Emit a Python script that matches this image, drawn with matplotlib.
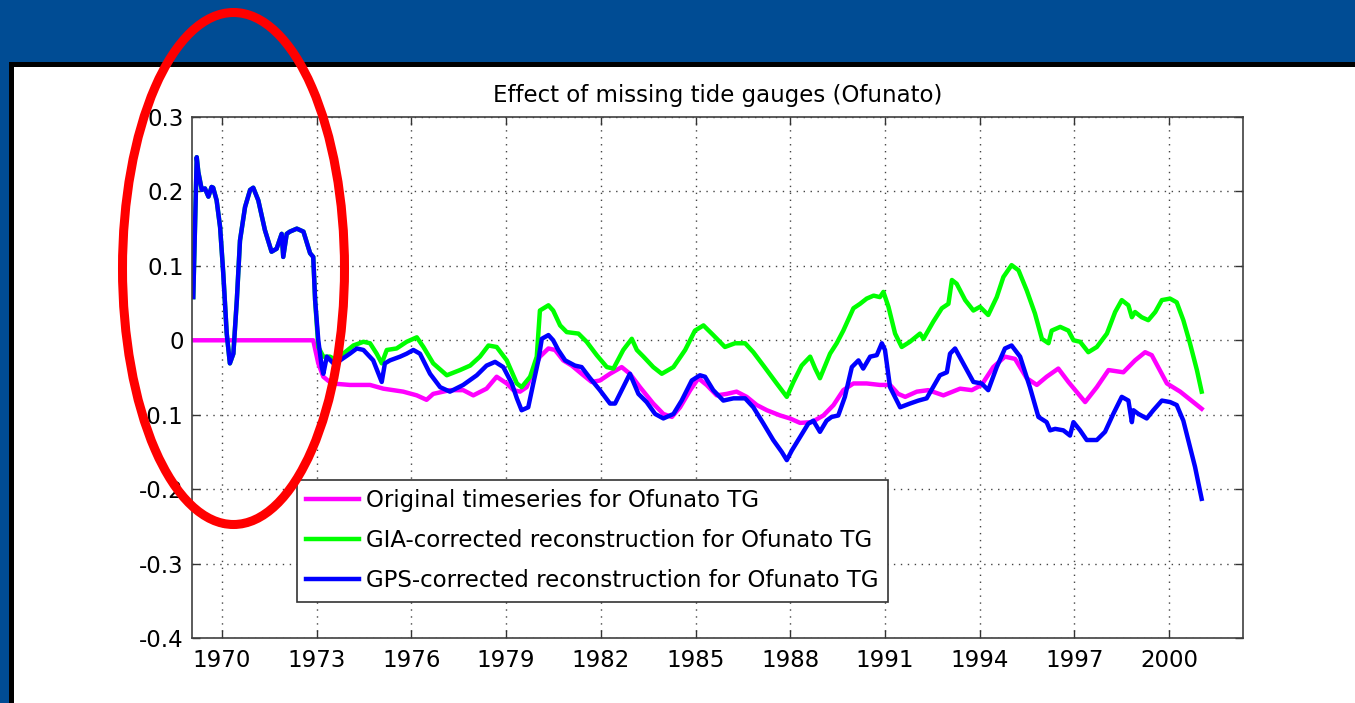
import numpy as np
import matplotlib
matplotlib.use("Agg")
import matplotlib.pyplot as plt
from matplotlib.patches import Rectangle, Ellipse

# --- data (decimal year, metres) ---
early_t = [1969.09, 1969.20, 1969.25, 1969.36, 1969.46, 1969.57, 1969.67, 1969.72,
           1969.83, 1969.94, 1970.04, 1970.15, 1970.25, 1970.36, 1970.47, 1970.57,
           1970.73, 1970.89, 1970.99, 1971.15, 1971.36, 1971.57, 1971.73, 1971.89,
           1971.94, 1972.05, 1972.15, 1972.37, 1972.58, 1972.79, 1972.89, 1972.95]
early_v = [0.058, 0.246, 0.226, 0.202, 0.204, 0.193, 0.206, 0.205,
           0.188, 0.152, 0.090, 0.009, -0.031, -0.018, 0.054, 0.134,
           0.179, 0.202, 0.205, 0.188, 0.148, 0.119, 0.123, 0.143,
           0.112, 0.143, 0.146, 0.150, 0.146, 0.117, 0.112, 0.054]

gps_t = [1973.05, 1973.16, 1973.21, 1973.32, 1973.53, 1973.74, 1974.05, 1974.27,
         1974.48, 1974.79, 1975.06, 1975.16, 1975.32, 1975.64, 1975.85, 1976.06,
         1976.27, 1976.59, 1976.91, 1977.22, 1977.64, 1978.07, 1978.38, 1978.65,
         1978.91, 1979.18, 1979.34, 1979.49, 1979.70, 1979.86, 1980.02, 1980.13,
         1980.34, 1980.49, 1980.65, 1980.87, 1981.18, 1981.39, 1981.66, 1981.97,
         1982.29, 1982.45, 1982.66, 1982.92, 1982.98, 1983.19, 1983.45, 1983.72,
         1983.98, 1984.30, 1984.56, 1984.88, 1985.14, 1985.30, 1985.56, 1985.88,
         1986.20, 1986.57, 1986.83, 1987.15, 1987.46, 1987.73, 1987.89, 1988.05,
         1988.31, 1988.57, 1988.73, 1988.94, 1989.15, 1989.31, 1989.52, 1989.73,
         1989.95, 1990.16, 1990.31, 1990.53, 1990.74, 1990.90, 1991.00, 1991.16,
         1991.48, 1991.79, 1992.06, 1992.32, 1992.74, 1992.96, 1993.06, 1993.22,
         1993.54, 1993.80, 1994.06, 1994.27, 1994.54, 1994.80, 1995.01, 1995.28,
         1995.59, 1995.86, 1996.12, 1996.23, 1996.39, 1996.65, 1996.86, 1996.97,
         1997.18, 1997.39, 1997.71, 1997.97, 1998.23, 1998.50, 1998.71, 1998.82,
         1998.87, 1999.03, 1999.29, 1999.50, 1999.77, 2000.03, 2000.24, 2000.45,
         2000.66, 2000.82, 2001.03]
gps_v = [0.000, -0.036, -0.045, -0.022, -0.031, -0.027, -0.018, -0.011,
         -0.013, -0.027, -0.056, -0.031, -0.027, -0.022, -0.018, -0.013,
         -0.018, -0.045, -0.063, -0.069, -0.060, -0.047, -0.034, -0.029,
         -0.036, -0.058, -0.078, -0.094, -0.090, -0.058, -0.027, 0.002,
         0.007, 0.000, -0.013, -0.027, -0.034, -0.036, -0.051, -0.067,
         -0.085, -0.085, -0.067, -0.045, -0.051, -0.072, -0.083, -0.099,
         -0.105, -0.099, -0.081, -0.054, -0.047, -0.049, -0.067, -0.081,
         -0.078, -0.078, -0.090, -0.112, -0.134, -0.150, -0.161, -0.148,
         -0.130, -0.112, -0.108, -0.123, -0.108, -0.103, -0.101, -0.076,
         -0.036, -0.027, -0.038, -0.022, -0.020, -0.004, -0.013, -0.063,
         -0.090, -0.085, -0.081, -0.078, -0.047, -0.043, -0.018, -0.011,
         -0.036, -0.056, -0.058, -0.067, -0.036, -0.011, -0.007, -0.022,
         -0.063, -0.103, -0.110, -0.121, -0.119, -0.121, -0.128, -0.110,
         -0.121, -0.134, -0.134, -0.123, -0.099, -0.076, -0.081, -0.110,
         -0.094, -0.099, -0.105, -0.094, -0.081, -0.083, -0.087, -0.108,
         -0.143, -0.170, -0.213]

gia_t = [1973.05, 1973.21, 1973.42, 1973.63, 1973.84, 1974.16, 1974.48, 1974.69,
         1974.90, 1975.06, 1975.22, 1975.53, 1975.85, 1976.17, 1976.38, 1976.69,
         1977.12, 1977.54, 1977.86, 1978.17, 1978.44, 1978.70, 1979.02, 1979.34,
         1979.49, 1979.76, 1979.97, 1980.07, 1980.34, 1980.49, 1980.71, 1980.92,
         1981.29, 1981.55, 1981.87, 1982.19, 1982.40, 1982.71, 1982.98, 1983.14,
         1983.35, 1983.66, 1983.93, 1984.30, 1984.67, 1984.98, 1985.25, 1985.56,
         1985.93, 1986.25, 1986.57, 1986.83, 1987.15, 1987.57, 1987.89, 1988.10,
         1988.36, 1988.63, 1988.79, 1988.94, 1989.26, 1989.47, 1989.68, 1990.00,
         1990.21, 1990.42, 1990.64, 1990.84, 1990.95, 1991.11, 1991.32, 1991.53,
         1991.79, 1992.11, 1992.22, 1992.53, 1992.80, 1993.01, 1993.12, 1993.27,
         1993.54, 1993.80, 1994.01, 1994.27, 1994.54, 1994.75, 1995.01, 1995.23,
         1995.49, 1995.75, 1995.97, 1996.18, 1996.28, 1996.55, 1996.81, 1996.97,
         1997.18, 1997.44, 1997.71, 1998.03, 1998.29, 1998.50, 1998.71, 1998.82,
         1998.92, 1999.13, 1999.34, 1999.56, 1999.77, 2000.03, 2000.24, 2000.45,
         2000.66, 2000.88, 2001.03]
gia_v = [-0.009, -0.022, -0.022, -0.027, -0.018, -0.007, -0.002, -0.004,
         -0.018, -0.031, -0.013, -0.011, -0.002, 0.004, -0.009, -0.031,
         -0.047, -0.040, -0.034, -0.022, -0.007, -0.009, -0.027, -0.058,
         -0.063, -0.049, -0.022, 0.040, 0.047, 0.040, 0.020, 0.011,
         0.009, -0.002, -0.020, -0.036, -0.038, -0.013, 0.002, -0.013,
         -0.022, -0.036, -0.045, -0.036, -0.013, 0.013, 0.020, 0.007,
         -0.009, -0.004, -0.004, -0.016, -0.034, -0.058, -0.076, -0.056,
         -0.034, -0.022, -0.038, -0.051, -0.018, -0.004, 0.013, 0.043,
         0.049, 0.056, 0.060, 0.058, 0.065, 0.045, 0.009, -0.009,
         -0.002, 0.009, 0.002, 0.025, 0.043, 0.049, 0.081, 0.076,
         0.054, 0.040, 0.045, 0.034, 0.058, 0.085, 0.101, 0.094,
         0.067, 0.036, 0.002, -0.004, 0.013, 0.018, 0.013, 0.000,
         -0.002, -0.016, -0.009, 0.009, 0.038, 0.054, 0.047, 0.031,
         0.038, 0.031, 0.027, 0.038, 0.054, 0.056, 0.051, 0.027,
         -0.004, -0.040, -0.069]

orig_t = [1969.09, 1972.89, 1973.05, 1973.21, 1973.47, 1974.05, 1974.69, 1975.11,
          1975.74, 1976.17, 1976.48, 1976.69, 1977.22, 1977.64, 1977.96, 1978.38,
          1978.70, 1979.02, 1979.23, 1979.44, 1979.65, 1979.86, 1980.07, 1980.34,
          1980.55, 1980.81, 1981.08, 1981.39, 1981.71, 1981.97, 1982.29, 1982.66,
          1982.92, 1983.24, 1983.66, 1983.98, 1984.25, 1984.51, 1984.83, 1985.09,
          1985.35, 1985.67, 1985.99, 1986.30, 1986.62, 1986.94, 1987.26, 1987.68,
          1987.99, 1988.31, 1988.68, 1989.05, 1989.37, 1989.68, 1990.00, 1990.42,
          1990.84, 1991.16, 1991.42, 1991.64, 1992.01, 1992.37, 1992.85, 1993.38,
          1993.75, 1994.06, 1994.43, 1994.80, 1995.12, 1995.49, 1995.81, 1996.12,
          1996.49, 1996.81, 1997.34, 1997.71, 1998.08, 1998.55, 1998.92, 1999.24,
          1999.45, 1999.93, 2000.35, 2001.03]
orig_v = [0.000, 0.000, -0.031, -0.049, -0.058, -0.060, -0.060, -0.065,
          -0.069, -0.074, -0.080, -0.072, -0.067, -0.067, -0.074, -0.065,
          -0.049, -0.058, -0.067, -0.069, -0.063, -0.040, -0.022, -0.011,
          -0.013, -0.027, -0.034, -0.045, -0.056, -0.054, -0.045, -0.036,
          -0.045, -0.063, -0.085, -0.099, -0.103, -0.090, -0.067, -0.051,
          -0.060, -0.074, -0.072, -0.069, -0.076, -0.087, -0.094, -0.101,
          -0.105, -0.111, -0.110, -0.101, -0.087, -0.067, -0.058, -0.058,
          -0.060, -0.060, -0.072, -0.076, -0.069, -0.067, -0.074, -0.065,
          -0.067, -0.060, -0.036, -0.022, -0.025, -0.051, -0.060, -0.049,
          -0.038, -0.056, -0.083, -0.063, -0.040, -0.043, -0.027, -0.016,
          -0.020, -0.058, -0.069, -0.092]

xticks = [1970, 1973, 1976, 1979, 1982, 1985, 1988, 1991, 1994, 1997, 2000]
yticks = [-0.4, -0.3, -0.2, -0.1, 0, 0.1, 0.2, 0.3]
ylabels = ["-0.4", "-0.3", "-0.2", "-0.1", "0", "0.1", "0.2", "0.3"]
labels = ["Original timeseries for Ofunato TG",
          "GIA-corrected reconstruction for Ofunato TG",
          "GPS-corrected reconstruction for Ofunato TG"]

W, H = 1355, 703
plt.rcParams.update({"font.family": "DejaVu Sans", "font.size": 16.5})
fig = plt.figure(figsize=(W / 100, H / 100), dpi=100, facecolor="white")

# slide frame: blue band + black border
blue = "#004c94"
fig.patches.append(Rectangle((0, 1 - 62 / H), 1, 62 / H, transform=fig.transFigure,
                             facecolor=blue, edgecolor="none", zorder=0))
fig.patches.append(Rectangle((0, 0), 8.5 / W, 1, transform=fig.transFigure,
                             facecolor=blue, edgecolor="none", zorder=0))
fig.patches.append(Rectangle((8.5 / W, 1 - 67 / H), 1, 5 / H, transform=fig.transFigure,
                             facecolor="black", edgecolor="none", zorder=1))
fig.patches.append(Rectangle((8.5 / W, 0), 5 / W, 1 - 62 / H, transform=fig.transFigure,
                             facecolor="black", edgecolor="none", zorder=1))

ax = fig.add_axes([192 / W, 1 - 638 / H, 1051 / W, 521 / H])
ax.plot(orig_t, orig_v, color="#ff00ff", lw=3.2, label=labels[0])
ax.plot(early_t + gia_t, early_v + gia_v, color="#00ff00", lw=3.2, label=labels[1])
ax.plot(early_t + gps_t, early_v + gps_v, color="#0000ff", lw=3.2, label=labels[2])

ax.set_xlim(1969.05, 2002.34)
ax.set_ylim(-0.4, 0.3)
ax.set_xticks(xticks)
ax.set_xticklabels([str(x) for x in xticks])
ax.set_yticks(yticks)
ax.set_yticklabels(ylabels)
ax.tick_params(direction="in", length=6, width=1, top=True, right=True,
               colors="#333333", labelcolor="black")
ax.tick_params(axis="x", pad=8)
ax.tick_params(axis="y", pad=6)
for s in ax.spines.values():
    s.set_color("#404040")
    s.set_linewidth(1.2)
ax.grid(True, color="#444444", linestyle=(0, (1, 4)), linewidth=1)
ax.set_title("Effect of missing tide gauges (Ofunato)", fontsize=16.5, pad=11)

leg = ax.legend(loc="lower left", bbox_to_anchor=(0.1, 0.07), borderaxespad=0,
                fancybox=False, framealpha=1, edgecolor="#333333",
                handlelength=2.3, handletextpad=0.3, labelspacing=0.75,
                borderpad=0.4)
leg.get_frame().set_linewidth(1.2)

# red highlight ellipse around the pre-1973 part
fig.patches.append(Ellipse((233.5 / W, 1 - 268.5 / H), 222 / W, 512 / H,
                           transform=fig.transFigure, fill=False,
                           edgecolor="#ff0000", lw=6.5, zorder=10))

fig.savefig("out.png", dpi=100, facecolor="white")
